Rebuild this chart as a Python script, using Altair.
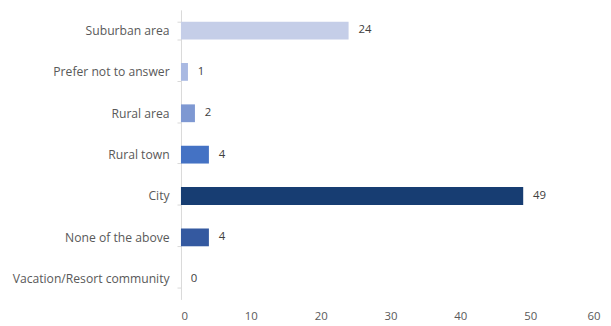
import altair as alt
import pandas as pd

categories = ["Suburban area", "Prefer not to answer", "Rural area", "Rural town",
              "City", "None of the above", "Vacation/Resort community"]
values = [24, 1, 2, 4, 49, 4, 0]
colors = ["#c5cee8", "#a9b9e2", "#7e98d2", "#4472c4", "#173d72", "#3459a0", "#3459a0"]

df = pd.DataFrame({"category": categories, "value": values, "color": colors})

y_enc = alt.Y("category:N", sort=categories, title=None,
              scale=alt.Scale(paddingInner=0.57, paddingOuter=0.285),
              axis=alt.Axis(labelFont="Open Sans", labelFontSize=12.3, labelColor="#595959",
                            labelPadding=8, tickBand="extent", tickSize=4, tickColor="#d9d9d9",
                            domainColor="#d9d9d9", labelLimit=300))
x_enc = alt.X("value:Q", title=None,
              scale=alt.Scale(domain=[0, 60]),
              axis=alt.Axis(values=[0, 10, 20, 30, 40, 50, 60], grid=False, domain=False,
                            ticks=False, labelFont="Open Sans", labelFontSize=11.5,
                            labelColor="#595959", labelPadding=11))

bars = alt.Chart(df).mark_bar().encode(
    y=y_enc, x=x_enc, color=alt.Color("color:N", scale=None)
)
labels = alt.Chart(df).mark_text(align="left", dx=10, font="Open Sans", fontSize=11.5,
                                  color="#404040").encode(
    y=alt.Y("category:N", sort=categories), x="value:Q", text="value:Q"
)

chart = (bars + labels).properties(
    width=424, height=293,
    autosize=alt.AutoSizeParams(type="none"),
    padding={"left": 175, "top": 0, "right": 3, "bottom": 25},
).configure_view(stroke=None)
chart.save("out.html", embed_options={"renderer": "svg", "actions": False})
